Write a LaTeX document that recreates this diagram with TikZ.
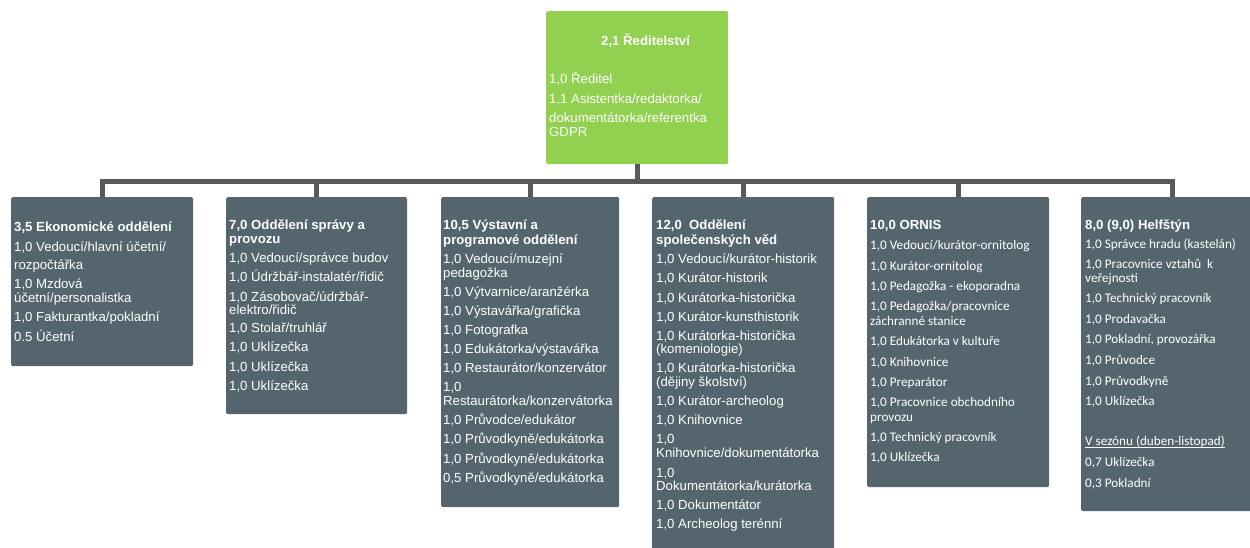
\documentclass[tikz,border=0pt]{standalone}
\usepackage{fontspec}
\setmainfont{Liberation Sans}
\newfontfamily\calibri{Carlito}
\definecolor{boxgray}{HTML}{55656E}
\definecolor{topgreen}{HTML}{92D050}
\definecolor{conngray}{HTML}{595959}
\tikzset{
  unitbox/.style={draw=none, fill=boxgray, rounded corners=1.5pt, inner sep=0pt, anchor=north west},
  topbox/.style={draw=none, fill=topgreen, rounded corners=1.5pt, inner sep=0pt, anchor=north west},
  conn/.style={draw=conngray, line width=5pt},
  txt/.style={text=white, inner sep=0pt, anchor=base west, font=\fontsize{13.2}{14}\selectfont},
  ctxt/.style={txt, font=\fontsize{13.2}{14}\selectfont\calibri},
  ttl/.style={txt, font=\fontsize{13.2}{14}\selectfont\bfseries}
}
\newcommand\tl[4][txt]{\node[#1] (#2) at (\xx,#3+4.6) {#4};}
\begin{document}
\begin{tikzpicture}[x=1pt,y=-1pt]
\useasboundingbox (0,0) rectangle (1250,547);
% boxes
\node[topbox, minimum width=182pt, minimum height=153pt] (top) at (546,11) {};
\node[unitbox, minimum width=182pt, minimum height=169pt] (b1) at (11,197) {};
\node[unitbox, minimum width=181pt, minimum height=217pt] (b2) at (226,197) {};
\node[unitbox, minimum width=178pt, minimum height=310pt] (b3) at (441,197) {};
\node[unitbox, minimum width=182pt, minimum height=370pt] (b4) at (652,197) {};
\node[unitbox, minimum width=182pt, minimum height=290pt] (b5) at (867,197) {};
\node[unitbox, minimum width=182pt, minimum height=314pt] (b6) at (1081,197) {};
% connectors
\foreach \b in {b1,b2,b3,b4,b5,b6}
  \draw[conn] (top.south) -- ++(0,17) -| (\b.north);
% top box text
\def\xx{601}
\tl[ttl]{t0}{41}{2,1 Ředitelství}
\def\xx{549}
\tl{t1}{79}{1,0 Ředitel}
\tl{t2}{99}{1,1 Asistentka/redaktorka/}
\tl{t3}{118}{dokumentátorka/referentka}
\tl{t4}{132}{GDPR}
% box 1
\def\xx{14}
\tl[ttl]{a0}{227}{3,5 Ekonomické oddělení}
\tl{a1}{247}{1,0 Vedoucí/hlavní účetní/}
\tl{a2}{265}{rozpočtářka}
\tl{a3}{284}{1,0 Mzdová}
\tl{a4}{298}{účetní/personalistka}
\tl{a5}{317}{1,0 Fakturantka/pokladní}
\tl{a6}{337}{0.5 Účetní}
% box 2
\def\xx{229}
\tl[ttl]{c0}{225}{7,0 Oddělení správy a}
\tl[ttl]{c1}{239}{provozu}
\tl{c2}{258}{1,0 Vedoucí/správce budov}
\tl{c3}{277}{1,0 Údržbář-instalatér/řidič}
\tl{c4}{297}{1,0 Zásobovač/údržbář-}
\tl{c5}{310}{elektro/řidič}
\tl{c6}{328}{1,0 Stolař/truhlář}
\tl{c7}{347}{1,0 Uklízečka}
\tl{c8}{367}{1,0 Uklízečka}
\tl{c9}{386}{1,0 Uklízečka}
% box 3
\def\xx{443}
\tl[ttl]{d0}{225}{10,5 Výstavní a}
\tl[ttl]{d1}{240}{programové oddělení}
\tl{d2}{259}{1,0 Vedoucí/muzejní}
\tl{d3}{273}{pedagožka}
\tl{d4}{292}{1,0 Výtvarnice/aranžérka}
\tl{d5}{311}{1,0 Výstavářka/grafička}
\tl{d6}{330}{1,0 Fotografka}
\tl{d7}{349}{1,0 Edukátorka/výstavářka}
\tl{d8}{368}{1,0 Restaurátor/konzervátor}
\tl{d9}{387}{1,0}
\tl{d10}{401}{Restaurátorka/konzervátorka}
\tl{d11}{420}{1,0 Průvodce/edukátor}
\tl{d12}{439}{1,0 Průvodkyně/edukátorka}
\tl{d13}{459}{1,0 Průvodkyně/edukátorka}
\tl{d14}{478}{0,5 Průvodkyně/edukátorka}
% box 4
\def\xx{656}
\tl[ttl]{e0}{225}{12,0\ \ Oddělení}
\tl[ttl]{e1}{240}{společenských věd}
\tl{e2}{259}{1,0 Vedoucí/kurátor-historik}
\tl{e3}{278}{1,0 Kurátor-historik}
\tl{e4}{298}{1,0 Kurátorka-historička}
\tl{e5}{317}{1,0 Kurátor-kunsthistorik}
\tl{e6}{336}{1,0 Kurátorka-historička}
\tl{e7}{349}{(komeniologie)}
\tl{e8}{368}{1,0 Kurátorka-historička}
\tl{e9}{382}{(dějiny školství)}
\tl{e10}{401}{1,0 Kurátor-archeolog}
\tl{e11}{420}{1,0 Knihovnice}
\tl{e12}{439}{1,0}
\tl{e13}{453}{Knihovnice/dokumentátorka}
\tl{e14}{473}{1,0}
\tl{e15}{486}{Dokumentátorka/kurátorka}
\tl{e16}{505}{1,0 Dokumentátor}
\tl{e17}{524}{1,0 Archeolog terénní}
% box 5
\def\xx{870}
\tl[ttl]{f0}{225}{10,0 ORNIS}
\tl[ctxt]{f1}{245}{1,0 Vedoucí/kurátor-ornitolog}
\tl[ctxt]{f2}{266}{1,0 Kurátor-ornitolog}
\tl[ctxt]{f3}{286}{1,0 Pedagožka - ekoporadna}
\tl[ctxt]{f4}{306}{1,0 Pedagožka/pracovnice}
\tl[ctxt]{f5}{321}{záchranné stanice}
\tl[ctxt]{f6}{341}{1,0 Edukátorka v kultuře}
\tl[ctxt]{f7}{362}{1,0 Knihovnice}
\tl[ctxt]{f8}{382}{1,0 Preparátor}
\tl[ctxt]{f9}{402}{1,0 Pracovnice obchodního}
\tl[ctxt]{f10}{417}{provozu}
\tl[ctxt]{f11}{437}{1,0 Technický pracovník}
\tl[ctxt]{f12}{457}{1,0 Uklízečka}
% box 6
\def\xx{1085}
\tl[ttl]{g0}{225}{8,0 (9,0) Helfštýn}
\tl[ctxt]{g1}{244}{1,0 Správce hradu (kastelán)}
\tl[ctxt]{g2}{264}{1,0 Pracovnice vztahů\ \ k}
\tl[ctxt]{g3}{278}{veřejnosti}
\tl[ctxt]{g4}{298}{1,0 Technický pracovník}
\tl[ctxt]{g5}{319}{1,0 Prodavačka}
\tl[ctxt]{g6}{339}{1,0 Pokladní, provozářka}
\tl[ctxt]{g7}{360}{1,0 Průvodce}
\tl[ctxt]{g8}{381}{1,0 Průvodkyně}
\tl[ctxt]{g9}{401}{1,0 Uklízečka}
\tl[ctxt]{g10}{441}{V sezónu (duben-listopad)}
\draw[white, line width=0.8pt] ([yshift=-1.6pt]g10.base west) -- ([yshift=-1.6pt]g10.base east);
\tl[ctxt]{g11}{462}{0,7 Uklízečka}
\tl[ctxt]{g12}{483}{0,3 Pokladní}
\end{tikzpicture}
\end{document}
